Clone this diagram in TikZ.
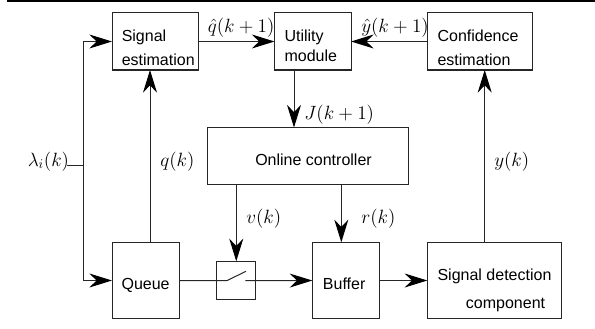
\documentclass[tikz,border=0pt]{standalone}
\usepackage{fontspec}
\setmainfont{Liberation Sans}
\usetikzlibrary{arrows.meta}
\tikzset{
  box/.style={draw=black!85,line width=0.75pt,inner sep=0pt,outer sep=0pt},
  lbl/.style={anchor=base west,inner sep=0pt,font=\fontsize{12}{14}\selectfont},
  mlbl/.style={anchor=base west,inner sep=0pt,font=\fontsize{14.4}{16}\selectfont},
  conn/.style={draw=black!85,line width=0.75pt},
  arr/.style={conn,-{Stealth[length=17pt,width=10.5pt,inset=5.5pt,color=black]}}
}
\begin{document}
\begin{tikzpicture}[x=0.75pt,y=-0.75pt]
\useasboundingbox (0,0) rectangle (595,328);
\fill[black] (7,0) rectangle (595,2);
% boxes
\node[box,minimum width=64.5pt,minimum height=42.75pt] (sig) at (155,41.5) {};
\node[box,minimum width=57.4pt,minimum height=42.75pt] (util) at (312.75,41.5) {};
\node[box,minimum width=79pt,minimum height=42.75pt] (conf) at (480,41.5) {};
\node[box,minimum width=150.4pt,minimum height=43.1pt] (ctrl) at (307.75,156.25) {};
\node[box,minimum width=50.25pt,minimum height=57.3pt] (queue) at (145.5,280.5) {};
\node[box,minimum width=28.9pt,minimum height=28.5pt] (sw) at (236.25,280.3) {};
\node[box,minimum width=50.5pt,minimum height=57.3pt] (buf) at (346,280.5) {};
\node[box,minimum width=100.5pt,minimum height=57.3pt] (det) at (494.3,280.5) {};
% box texts
\node[lbl] (t1) at (121.5,41.7) {Signal};
\node[lbl] (t2) at (121.5,65.7) {estimation};
\node[lbl] (t3) at (284.3,41.7) {Utility};
\node[lbl] (t4) at (284.3,61) {module};
\node[lbl] (t5) at (437.3,41.7) {Confidence};
\node[lbl] (t6) at (437.3,65.7) {estimation};
\node[lbl] (t7) at (255,165.7) {Online controller};
\node[lbl] (t8) at (121.3,289.7) {Queue};
\node[lbl] (t9) at (322.7,289.7) {Buffer};
\node[lbl] (t10) at (437.3,280.7) {Signal detection};
\node[lbl] (t11) at (465.7,308.7) {component};
% math labels
\node[mlbl] (m1) at (207.5,32.7) {$\hat q(k+1)$};
\node[mlbl] (m2) at (361,32.7) {$\hat y(k+1)$};
\node[mlbl] (m3) at (304,119) {$J(k+1)$};
\node[mlbl] (m4) at (27.5,166) {$\lambda_i(k)$};
\node[mlbl] (m5) at (160,166.7) {$q(k)$};
\node[mlbl] (m6) at (246,223) {$v(k)$};
\node[mlbl] (m7) at (361,223) {$r(k)$};
\node[mlbl] (m8) at (494,166.7) {$y(k)$};
% helpers
\coordinate (busx) at (83,165);
\coordinate (stub) at (67,165);
\coordinate (qx) at (150,165);
\coordinate (ux) at (294,100);
\coordinate (rx) at (341.3,220);
\coordinate (yx) at (484.7,165);
% connectors
\draw[conn] (stub) -- (busx);
\draw[arr] (busx) |- (sig.west);
\draw[arr] (busx) |- (queue.west);
\draw[arr] (queue.north -| qx) -- (sig.south -| qx);
\draw[arr] (sig.east) -- (util.west);
\draw[arr] (conf.west) -- (util.east);
\draw[arr] (util.south -| ux) -- (ctrl.north -| ux);
\draw[arr] (ctrl.south -| sw.north) -- (sw.north);
\draw[arr] (ctrl.south -| rx) -- (buf.north -| rx);
\draw[arr] (det.north -| yx) -- (conf.south -| yx);
\draw[arr] (buf.east) -- (det.west);
% switch
\coordinate (s1) at (226.7,280.7);
\coordinate (s2) at (246,271.3);
\coordinate (s3) at (245.3,280.7);
\draw[conn] (queue.east) -- (s1) -- (s2);
\draw[arr] (s3) -- (buf.west);
\end{tikzpicture}
\end{document}
